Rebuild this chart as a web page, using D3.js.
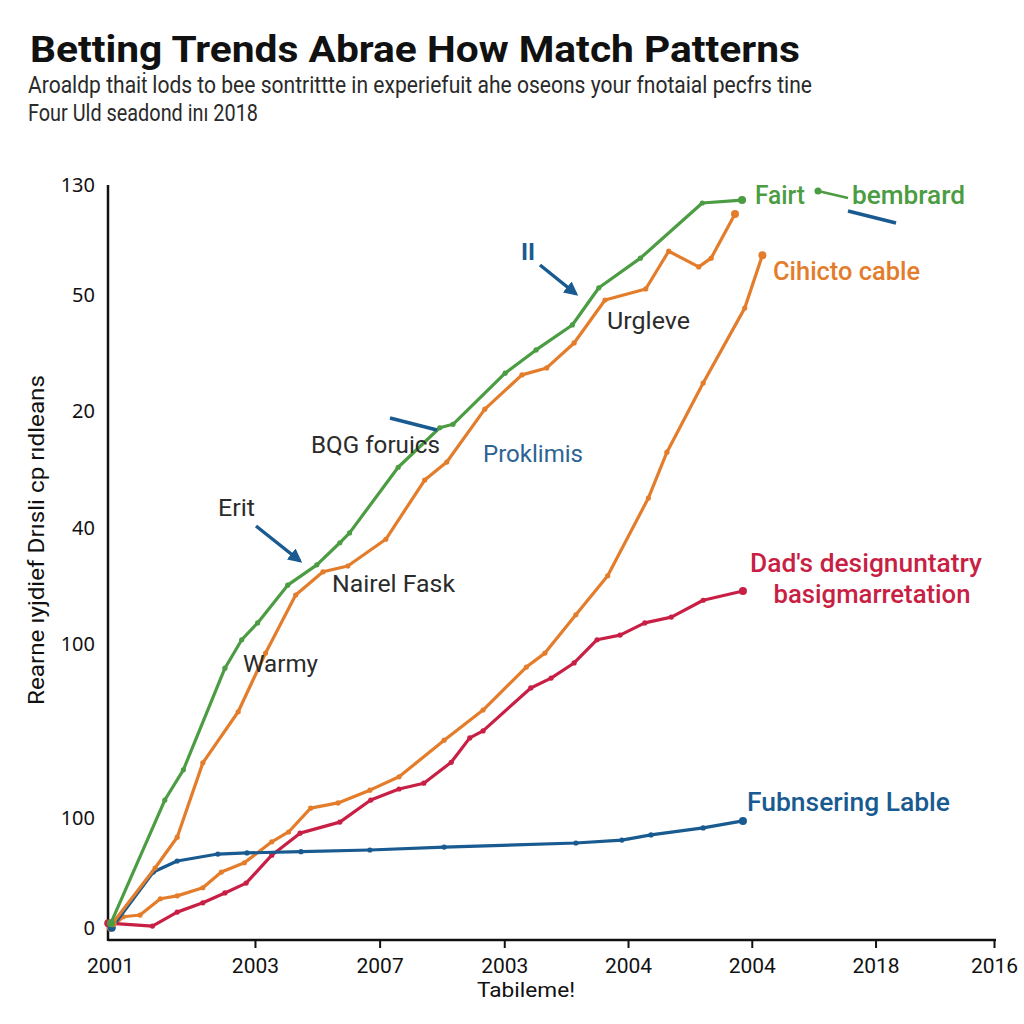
<!DOCTYPE html>
<html><head><meta charset="utf-8">
<script src="https://cdn.jsdelivr.net/npm/d3@7"></script>
<style>
html,body{margin:0;padding:0;background:#fff;}
svg{display:block;}
</style></head>
<body>
<script>
// ---------- data ----------
const xTickValues = [0, 16.4, 30.5, 44.6, 58.6, 72.6, 86.6, 100];
const xTickLabels = ["2001","2003","2007","2003","2004","2004","2018","2016"];
const yTickValues = [2, 21, 51, 71, 91, 111, 130];
const yTickLabels = ["0","100","100","40","20","50","130"];

const greenX = [0.1,6.2,8.3,13.0,14.9,16.7,20.1,23.4,26.0,27.1,32.6,37.3,38.8,44.7,48.2,52.3,55.3,60.0,67.0,71.5];
const greenY = [2.9,24.1,29.3,46.8,51.7,54.6,61.1,64.6,68.4,70.1,81.4,88.2,88.8,97.6,101.6,105.9,112.3,117.4,126.9,127.4];

const orange1X = [0.3,5.1,7.6,10.5,14.5,17.6,21.0,24.1,26.9,31.2,35.6,38.1,42.4,46.6,49.4,52.5,56.0,60.6,63.2,66.6,68.0,70.7];
const orange1Y = [2.9,12.4,17.7,30.5,39.3,49.4,59.4,63.4,64.4,69.0,79.2,82.3,91.4,97.3,98.5,102.8,110.2,112.1,118.6,115.9,117.4,125.0];

const orange2X = [0.1,1.5,3.4,5.7,7.6,10.5,12.6,15.2,18.3,20.2,22.7,25.8,29.4,32.7,37.8,42.2,47.1,49.2,52.7,56.3,60.9,63.0,67.1,71.8,73.8];
const orange2Y = [2.1,4.0,4.3,7.1,7.6,9.0,11.7,13.3,16.9,18.6,22.7,23.6,25.8,28.1,34.4,39.6,47.0,49.4,56.0,62.7,76.1,84.0,95.9,108.8,117.9];

const redX = [-0.2,4.8,7.6,10.5,13.0,15.4,18.3,21.5,26.0,29.5,32.7,35.5,38.6,40.7,42.2,47.6,49.9,52.5,55.1,57.7,60.5,63.5,67.1,71.6];
const redY = [2.9,2.4,4.8,6.4,8.1,9.8,14.6,18.4,20.3,24.1,26.0,27.0,30.6,34.8,36.0,43.4,45.1,47.7,51.7,52.5,54.6,55.6,58.5,60.1];

const blueX = [0.2,4.9,7.6,12.2,15.5,21.6,29.4,37.8,52.7,57.9,61.2,67.1,71.6];
const blueY = [2.1,11.7,13.6,14.8,15.0,15.2,15.5,16.0,16.7,17.2,18.1,19.3,20.5];

const seriesNames = ["green","orange1","orange2","red","blue"];
const titleText = "Betting Trends Abrae How Match Patterns";
const subtitleLines = ["Aroaldp thaiṫ lods to bee sontrittte in experiefuit ahe oseons your  fnotaial pecfrs tine", "Four Uld seadond inı 2018"];
const yAxisTitle = "Rearne ıyjdief Drısli cp rıdleans";
const xAxisTitle = "Tabileme!";

// ---------- drawing ----------
const W = 1024, H = 1024;
const C = {green:"#4b9c42", orange:"#e37d2b", red:"#c81f44", blue:"#195a90", dark:"#2b2b2b"};
const svg = d3.select("body").append("svg").attr("width",W).attr("height",H);

const x = d3.scaleLinear().domain([0,100]).range([110,994]);
const y = d3.scaleLinear().domain([0,130]).range([940,185]);

// titles
svg.append("text").attr("x",30).attr("y",62).text(titleText)
  .attr("font-family","Roboto, 'Liberation Sans', Arial, sans-serif").attr("font-weight",700)
  .attr("font-size",37).attr("fill","#111").attr("textLength",770).attr("lengthAdjust","spacingAndGlyphs");
svg.append("text").attr("x",28).attr("y",93).text(subtitleLines[0])
  .attr("font-family","Roboto, sans-serif").attr("font-size",24).attr("fill","#2a2a2a")
  .attr("textLength",784).attr("lengthAdjust","spacingAndGlyphs");
svg.append("text").attr("x",28).attr("y",121).text(subtitleLines[1])
  .attr("font-family","Roboto, sans-serif").attr("font-size",24).attr("fill","#2a2a2a")
  .attr("textLength",230).attr("lengthAdjust","spacingAndGlyphs");

// axes
const xAxis = d3.axisBottom(x).tickValues(xTickValues)
  .tickFormat((d,i)=>xTickLabels[i]).tickSize(8).tickSizeOuter(0).tickPadding(10);
const gx = svg.append("g").attr("transform",`translate(0,${y(0)})`).call(xAxis);
gx.select(".domain").attr("stroke","#111").attr("stroke-width",2.5).attr("d",`M108,0H996`);
gx.selectAll(".tick line").attr("stroke","#111").attr("stroke-width",2).attr("opacity",(d,i)=>i===0?0:1);
gx.selectAll(".tick text").attr("font-family","Roboto, sans-serif").attr("font-size",21).attr("fill","#111");

const yAxis = d3.axisLeft(y).tickValues(yTickValues)
  .tickFormat((d,i)=>yTickLabels[i]).tickSize(0).tickPadding(13);
const gy = svg.append("g").attr("transform",`translate(108,0)`).call(yAxis);
gy.select(".domain").attr("stroke","#111").attr("stroke-width",2.5).attr("d",`M0,185V941`);
gy.selectAll(".tick text").attr("font-family","'Noto Sans', 'DejaVu Sans', sans-serif").attr("font-size",20).attr("fill","#111");

svg.append("text").attr("transform","translate(44,540) rotate(-90)").attr("text-anchor","middle")
  .text(yAxisTitle).attr("font-family","Roboto, sans-serif").attr("font-size",22).attr("fill","#111")
  .attr("textLength",330).attr("lengthAdjust","spacingAndGlyphs");
svg.append("text").attr("x",526).attr("y",997).attr("text-anchor","middle").text(xAxisTitle)
  .attr("font-family","Roboto, sans-serif").attr("font-weight",400).attr("font-size",21).attr("fill","#111")
  .attr("textLength",98).attr("lengthAdjust","spacingAndGlyphs");

// series
const series = [
  {name:"orange2", xs:orange2X, ys:orange2Y, color:C.orange},
  {name:"red", xs:redX, ys:redY, color:C.red},
  {name:"blue", xs:blueX, ys:blueY, color:C.blue},
  {name:"orange1", xs:orange1X, ys:orange1Y, color:C.orange},
  {name:"green", xs:greenX, ys:greenY, color:C.green},
];
const line = d3.line().x(d=>x(d[0])).y(d=>y(d[1]));
series.forEach(s=>{
  const pts = s.xs.map((v,i)=>[v,s.ys[i]]);
  const g = svg.append("g");
  g.append("path").attr("d",line(pts)).attr("fill","none").attr("stroke",s.color)
    .attr("stroke-width",3.2).attr("stroke-linejoin","round").attr("stroke-linecap","round");
  g.selectAll("circle").data(pts).join("circle")
    .attr("cx",d=>x(d[0])).attr("cy",d=>y(d[1]))
    .attr("r",(d,i)=> (i===pts.length-1 || i===0) ? 4 : 2.6).attr("fill",s.color);
});

// annotations
const defs = svg.append("defs");
defs.append("marker").attr("id","arr").attr("viewBox","0 0 10 10").attr("refX",8).attr("refY",5)
  .attr("markerWidth",4).attr("markerHeight",4).attr("orient","auto")
  .append("path").attr("d","M0,0L10,5L0,10z").attr("fill",C.blue);

function arrow(x1,y1,x2,y2,head){
  const l = svg.append("line").attr("x1",x1).attr("y1",y1).attr("x2",x2).attr("y2",y2)
    .attr("stroke",C.blue).attr("stroke-width",3.5).attr("stroke-linecap","butt");
  if(head) l.attr("marker-end","url(#arr)");
}
arrow(540,265,576,294,true);
arrow(256,526,300,561,true);
arrow(390,418,437,430,false);
arrow(848,211,896,223,false);

function label(t,xp,yp,color,size,weight,anchor,len){
  const el = svg.append("text").attr("x",xp).attr("y",yp).text(t).attr("fill",color)
    .attr("font-family","Roboto, sans-serif").attr("font-size",size).attr("font-weight",weight||400)
    .attr("text-anchor",anchor||"start");
  if(len) el.attr("textLength",len).attr("lengthAdjust","spacingAndGlyphs");
}
const annTexts = ["Fairt","bembrard","Cihicto cable","Dad's designuntatry","basigmarretation","Fubnsering Lable","Urgleve","Proklimis","BQG foruics","Erit","Nairel Fask","Warmy","II"];
label(annTexts[0],755,204,C.green,25,500,"start",50);
svg.append("circle").attr("cx",818).attr("cy",191).attr("r",3.5).attr("fill",C.green);
svg.append("line").attr("x1",818).attr("y1",191).attr("x2",848).attr("y2",198).attr("stroke",C.green).attr("stroke-width",2.5);
label(annTexts[1],852,204,C.green,25,500,"start",113);
label(annTexts[2],773,280,C.orange,25,500,"start",147);
label(annTexts[3],866,572,C.red,25,500,"middle",232);
label(annTexts[4],872,603,C.red,25,500,"middle",197);
label(annTexts[5],747,811,C.blue,25,500,"start",203);
label(annTexts[6],607,329,C.dark,24,400,"start",83);
label(annTexts[7],483,462,"#2c6394",24,400,"start",100);
label(annTexts[8],311,453,C.dark,24,400,"start",129);
label(annTexts[9],218,516,C.dark,24,400,"start",37);
label(annTexts[10],332,592,C.dark,24,400,"start",123);
label(annTexts[11],243,672,C.dark,24,400,"start",75);
label(annTexts[12],521,260,C.blue,24,700);
</script>
</body></html>
